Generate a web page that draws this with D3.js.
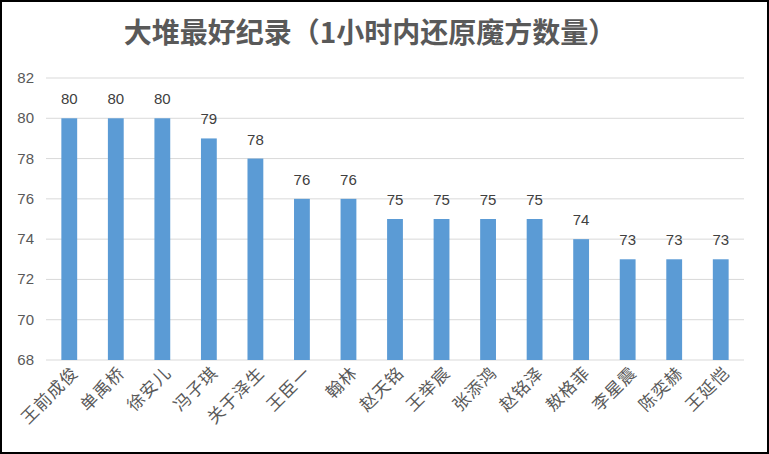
<!DOCTYPE html><html><head><meta charset="utf-8"><script src="https://cdn.jsdelivr.net/npm/d3@7"></script>
<style>body{margin:0;background:#fff}</style></head><body><svg id="c" width="769" height="454"></svg><script>
const names=["王前成俊","单禹桥","徐安儿","冯子琪","关于泽生","王臣一","翰林","赵天铭","王举宸","张添鸿","赵铭泽","敖格菲","李星震","陈奕赫","王延恺"];
const values=[80,80,80,79,78,76,76,75,75,75,75,74,73,73,73];
const yTicks=[68,70,72,74,76,78,80,82];
const title="大堆最好纪录（1小时内还原魔方数量）";
const svg=d3.select("#c");
svg.append("rect").attr("x",1).attr("y",1).attr("width",767).attr("height",452).attr("fill","#fff").attr("stroke","#000").attr("stroke-width",2);
const x=d3.scaleBand().domain(names).range([46,744]).paddingInner(0.66).paddingOuter(0.33);
const y=d3.scaleLinear().domain([68,82]).range([360,78]);
const g=svg.append("g");
g.selectAll("line.g").data(yTicks).join("line").attr("x1",46).attr("x2",744).attr("y1",d=>y(d)).attr("y2",d=>y(d)).attr("stroke","#d9d9d9");
g.selectAll("text.y").data(yTicks).join("text").attr("x",34).attr("y",d=>y(d)+5).attr("text-anchor","end").attr("font-family","Liberation Sans, Arial").attr("font-size",15).attr("fill","#595959").text(d=>d);
g.selectAll("rect.b").data(values).join("rect").attr("x",(d,i)=>x(names[i])).attr("width",x.bandwidth()).attr("y",d=>y(d)).attr("height",d=>360-y(d)).attr("fill","#5b9bd5");
g.selectAll("text.v").data(values).join("text").attr("x",(d,i)=>x(names[i])+x.bandwidth()/2).attr("y",d=>y(d)-14).attr("text-anchor","middle").attr("font-family","Liberation Sans, Arial").attr("font-size",15).attr("fill","#404040").text(d=>d);
g.selectAll("text.n").data(names).join("text").attr("transform",d=>`translate(${x(d)+x.bandwidth()/2+10},${374}) rotate(-45)`).attr("text-anchor","end").attr("font-family","Noto Sans CJK SC").attr("font-size",17).attr("letter-spacing",1).attr("fill","#595959").text(d=>d);
svg.append("text").attr("x",370).attr("y",43).attr("text-anchor","middle").attr("font-family","Noto Sans CJK SC").attr("font-weight","bold").attr("font-size",28).attr("fill","#595959").text(title);
</script></body></html>
